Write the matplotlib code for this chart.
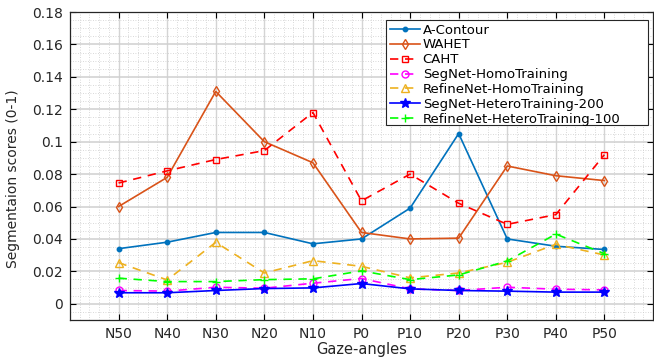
import matplotlib
matplotlib.use("Agg")
import matplotlib.pyplot as plt
from matplotlib.ticker import MultipleLocator
from matplotlib.patches import Rectangle
import numpy as np

categories = ["N50", "N40", "N30", "N20", "N10", "P0", "P10", "P20", "P30", "P40", "P50"]
a_contour = [0.034, 0.038, 0.044, 0.044, 0.037, 0.040, 0.059, 0.105, 0.040, 0.0355, 0.0335]
wahet = [0.060, 0.078, 0.131, 0.100, 0.087, 0.044, 0.040, 0.0405, 0.085, 0.079, 0.076]
caht = [0.0745, 0.082, 0.089, 0.0945, 0.118, 0.0635, 0.080, 0.062, 0.049, 0.055, 0.092]
segnet_homo = [0.0082, 0.0078, 0.0102, 0.0096, 0.0127, 0.0156, 0.0092, 0.0082, 0.0102, 0.009, 0.0086]
refinenet_homo = [0.0254, 0.0147, 0.0379, 0.019, 0.0266, 0.0231, 0.016, 0.019, 0.0256, 0.0367, 0.0301]
segnet_hetero = [0.0068, 0.0068, 0.0082, 0.0094, 0.0098, 0.0125, 0.0092, 0.0082, 0.0078, 0.0072, 0.0072]
refinenet_hetero = [0.0158, 0.0137, 0.0137, 0.0149, 0.0154, 0.0203, 0.0149, 0.0178, 0.0264, 0.043, 0.0309]
yticks = [0, 0.02, 0.04, 0.06, 0.08, 0.1, 0.12, 0.14, 0.16, 0.18]
ytick_labels = ["0", "0.02", "0.04", "0.06", "0.08", "0.1", "0.12", "0.14", "0.16", "0.18"]

plt.rcParams['font.family'] = ['DejaVu Sans']

fig = plt.figure(figsize=(6.54, 3.58), dpi=100)
W, H = 654, 358
left, right, top, bottom = 70, 653, 12, 320
ax = fig.add_axes([left / W, 1 - bottom / H, (right - left) / W, (bottom - top) / H])

x = np.arange(1, len(categories) + 1)

series = [
    ("A-Contour", a_contour, dict(color="#0072BD", ls="-", marker="o", ms=3.2, mfc="#0072BD")),
    ("WAHET", wahet, dict(color="#D95319", ls="-", marker="d", ms=5.5, mfc="none")),
    ("CAHT", caht, dict(color="#FF0000", ls=(0, (5, 4)), marker="s", ms=4.2, mfc="none")),
    ("SegNet-HomoTraining", segnet_homo, dict(color="#FF00FF", ls=(0, (5, 4)), marker="o", ms=5, mfc="none")),
    ("RefineNet-HomoTraining", refinenet_homo, dict(color="#EDB120", ls=(0, (5, 4)), marker="^", ms=6, mfc="none")),
    ("SegNet-HeteroTraining-200", segnet_hetero, dict(color="#0000FF", ls="-", marker="*", ms=7, mfc="#0000FF")),
    ("RefineNet-HeteroTraining-100", refinenet_hetero, dict(color="#00FF00", ls=(0, (5, 4)), marker="+", ms=6, mfc="none")),
]
for name, vals, st in series:
    ax.plot(x, vals, label=name, lw=1.2, mew=1.0, zorder=3, **st)

ax.set_xlim(0, 12)
ax.set_ylim(-0.01, 0.18)
ax.set_xticks(x)
ax.set_xticklabels(categories, fontsize=10, color="#262626")
ax.set_yticks(yticks)
ax.set_yticklabels(ytick_labels, fontsize=10, color="#262626")
ax.xaxis.set_minor_locator(MultipleLocator(0.2))
ax.yaxis.set_minor_locator(MultipleLocator(0.005))
ax.grid(which="minor", color="#cccccc", lw=0.6, ls=(0, (1, 2)), zorder=0)
ax.xaxis.grid(True, which="major", color="#d4d4d4", lw=1.0, ls="-", zorder=0.5)
ax.yaxis.grid(True, which="major", color="#cfcfcf", lw=1.1, ls="-", zorder=0.5)
ax.tick_params(which="major", direction="in", top=True, right=True, length=4, width=0.8, pad=5)
ax.tick_params(which="minor", length=0)
for sp in ax.spines.values():
    sp.set_color("#262626")
    sp.set_linewidth(0.9)
ax.set_axisbelow(True)

ax.set_xlabel("Gaze-angles", fontsize=10.5, color="#262626", labelpad=1)
ax.set_ylabel("Segmentaion scores (0-1)", fontsize=10, color="#262626")
ax.yaxis.set_label_coords(-0.085, 0.46)

# legend box (pixel coordinates of the reference frame)
lx0, ly0, lx1, ly1 = 386, 20, 648, 125
fig.patches.append(Rectangle((lx0 / W, 1 - ly1 / H), (lx1 - lx0) / W, (ly1 - ly0) / H,
                             transform=fig.transFigure, facecolor="white", edgecolor="#262626",
                             lw=0.8, zorder=4))
leg = fig.legend(*ax.get_legend_handles_labels(), loc="upper left",
                 bbox_to_anchor=((lx0 + 1) / W, 1 - (ly0 + 1) / H),
                 fontsize=9.5, frameon=False, borderpad=0.2, labelspacing=0.14,
                 handlelength=2.3, handletextpad=0.2, borderaxespad=0)
leg.set_zorder(5)

fig.savefig("out.png", dpi=100)
